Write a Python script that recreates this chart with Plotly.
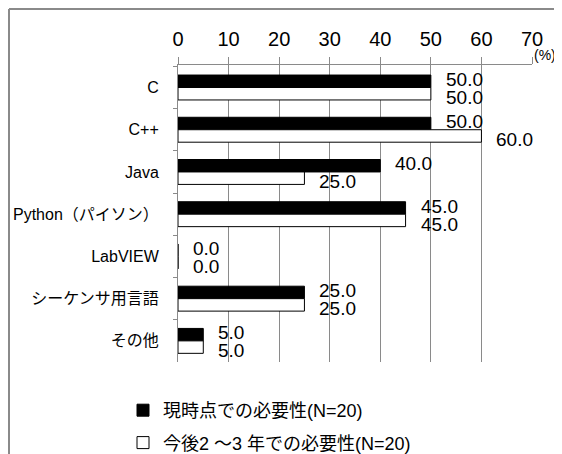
import plotly.graph_objects as go

# データ
categories = ["C", "C++", "Java", "Python（パイソン）", "LabVIEW", "シーケンサ用言語", "その他"]
now_values = [50.0, 50.0, 40.0, 45.0, 0.0, 25.0, 5.0]
future_values = [50.0, 60.0, 25.0, 45.0, 0.0, 25.0, 5.0]
series_names = ["現時点での必要性(N=20)", "今後2 ～3 年での必要性(N=20)"]
x_ticks = [0, 10, 20, 30, 40, 50, 60, 70]

FONT = "Liberation Sans, Noto Sans CJK JP, sans-serif"
GRID = "#8a8a8a"

# ページ余白 8px を考慮した図のサイズ (プロット領域: x 170-524, y 57-354)
W, H = 554, 446
ML, MR, MT, MB = 170, 30, 57, 92
PW, PH = W - ML - MR, H - MT - MB


def px_x(px):
    return (px - ML) / PW


def px_y(py):
    return (H - MB - py) / PH


fig = go.Figure()

fig.add_trace(go.Bar(
    y=categories, x=now_values, orientation="h", name=series_names[0],
    legendgroup="now",
    marker=dict(color="black", line=dict(color="black", width=1)),
))
fig.add_trace(go.Bar(
    y=categories, x=future_values, orientation="h", name=series_names[1],
    legendgroup="future",
    marker=dict(color="white", line=dict(color="black", width=1)),
))

# データラベル
annotations = []
for vals, ys in ((now_values, 8), (future_values, -10)):
    for cat, v in zip(categories, vals):
        annotations.append(dict(
            x=v, y=cat, xref="x", yref="y", text=f"{v:.1f}",
            showarrow=False, xanchor="left", xshift=13, yshift=ys,
            font=dict(size=19, color="black", family=FONT),
        ))

# 単位
annotations.append(dict(
    x=px_x(524), y=px_y(47), xref="paper", yref="paper", text="(%)",
    showarrow=False, xanchor="left", yanchor="middle",
    font=dict(size=14, color="black", family=FONT),
))

# 外枠
shapes = [
    dict(type="line", xref="paper", yref="paper",
         x0=px_x(1), y0=px_y(1), x1=px_x(W), y1=px_y(1),
         line=dict(color=GRID, width=2)),
    dict(type="line", xref="paper", yref="paper",
         x0=px_x(1), y0=px_y(1), x1=px_x(1), y1=px_y(H),
         line=dict(color=GRID, width=2)),
]

fig.update_xaxes(
    side="top", range=[0, 70], tickvals=x_ticks,
    showgrid=True, gridcolor=GRID, gridwidth=1,
    showline=True, linecolor=GRID, linewidth=1,
    ticks="outside", ticklen=7, tickcolor=GRID,
    ticklabelstandoff=3,
    tickfont=dict(size=20, color="black", family=FONT),
    zeroline=False, fixedrange=True, automargin=False,
)
fig.update_yaxes(
    autorange="reversed", tickson="boundaries",
    showgrid=False, showline=True, linecolor=GRID, linewidth=1,
    ticks="outside", ticklen=4, tickcolor=GRID,
    ticklabelstandoff=15,
    tickfont=dict(size=16, color="black", family=FONT),
    fixedrange=True, automargin=False,
)

fig.update_layout(
    width=W, height=H,
    margin=dict(l=ML, r=MR, t=MT, b=MB, autoexpand=False),
    barmode="group", bargap=0.41, bargroupgap=0,
    paper_bgcolor="white", plot_bgcolor="white",
    font=dict(family=FONT, color="black"),
    showlegend=True,
    legend=dict(
        orientation="v", traceorder="grouped", tracegroupgap=6,
        x=px_x(115), y=px_y(384), xanchor="left", yanchor="top",
        font=dict(size=18, color="black", family=FONT),
        bgcolor="rgba(0,0,0,0)",
    ),
    annotations=annotations,
    shapes=shapes,
)

fig.write_html("out.html", config={"displayModeBar": False})
